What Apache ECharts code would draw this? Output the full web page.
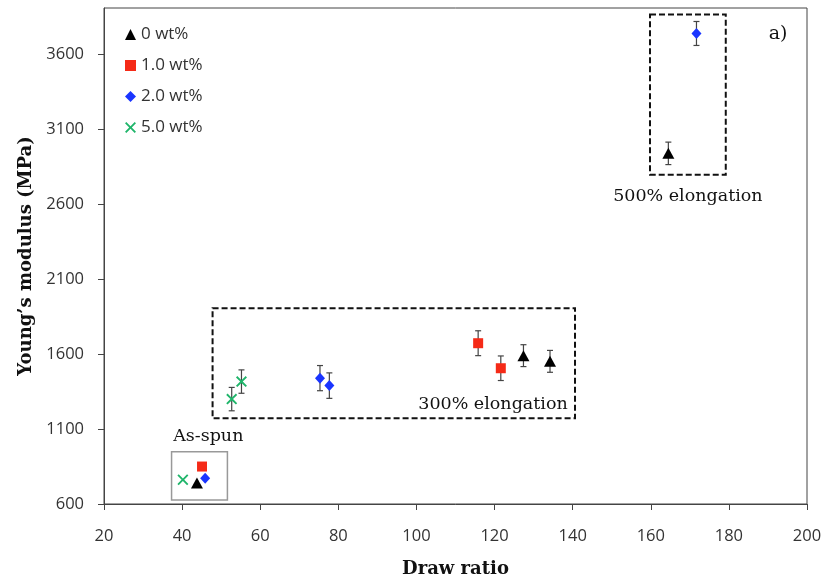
<!DOCTYPE html>
<html>
<head>
<meta charset="utf-8">
<script src="https://cdn.jsdelivr.net/npm/echarts@6/dist/echarts.min.js"></script>
<style>
  html, body { margin: 0; padding: 0; background: #fff; }
  #chart { width: 828px; height: 579px; }
</style>
</head>
<body>
<div id="chart"></div>
<script>
// 数据：[拉伸比, 杨氏模量, 误差]
var wt0 = [[43.8, 740, 0], [127.4, 1590, 73], [134.2, 1552, 73], [164.5, 2940, 75]];
var wt1 = [[45.1, 850, 0], [115.8, 1673, 83], [121.6, 1506, 82]];
var wt2 = [[45.9, 772, 0], [75.3, 1440, 84], [77.7, 1390, 85], [171.7, 3740, 80]];
var wt5 = [[40.2, 762, 0], [52.7, 1300, 78], [55.2, 1417, 78]];

var seriesNames = ['0 wt%', '1.0 wt%', '2.0 wt%', '5.0 wt%'];
var yTicks = [600, 1100, 1600, 2100, 2600, 3100, 3600];

// 框：[x0, y0, x1, y1]
var boxAsSpun = [37.3, 627, 51.6, 949];
var box300 = [47.8, 1172, 140.6, 1907];
var box500 = [159.8, 2798, 179.2, 3867];

// 注释文字：[x, y, 文本]
var notes = [
  [46.7, 1048, 'As-spun'],
  [119.6, 1261, '300% elongation'],
  [169.5, 2651, '500% elongation'],
  [192.6, 3733, 'a)']
];

var serifFont = "'DejaVu Serif', 'Liberation Serif', serif";
var sansFont = "'Open Sans', 'Liberation Sans', sans-serif";

var xSymbol = 'path://M0,1.2L1.2,0L5,3.8L8.8,0L10,1.2L6.2,5L10,8.8L8.8,10L5,6.2L1.2,10L0,8.8L3.8,5Z';

function errorBars(data) {
  return {
    type: 'custom',
    z: 1,
    silent: true,
    data: data.filter(function (d) { return d[2] > 0; }),
    renderItem: function (params, api) {
      var top = api.coord([api.value(0), api.value(1) + api.value(2)]);
      var bot = api.coord([api.value(0), api.value(1) - api.value(2)]);
      var st = { stroke: '#444', lineWidth: 1.2 };
      return {
        type: 'group',
        children: [
          { type: 'line', shape: { x1: top[0], y1: top[1], x2: bot[0], y2: bot[1] }, style: st },
          { type: 'line', shape: { x1: top[0] - 3, y1: top[1], x2: top[0] + 3, y2: top[1] }, style: st },
          { type: 'line', shape: { x1: bot[0] - 3, y1: bot[1], x2: bot[0] + 3, y2: bot[1] }, style: st }
        ]
      };
    }
  };
}

function boxSeries(box, dashed, color) {
  return {
    type: 'custom',
    z: 1,
    silent: true,
    data: [box],
    renderItem: function (params, api) {
      var p0 = api.coord([api.value(0), api.value(3)]);
      var p1 = api.coord([api.value(2), api.value(1)]);
      return {
        type: 'rect',
        shape: { x: p0[0], y: p0[1], width: p1[0] - p0[0], height: p1[1] - p0[1] },
        style: {
          fill: 'none',
          stroke: color,
          lineWidth: dashed ? 2 : 1.5,
          lineDash: dashed ? [6, 3] : null
        }
      };
    }
  };
}

var chart = echarts.init(document.getElementById('chart'));

var option = {
  backgroundColor: '#fff',
  animation: false,
  grid: {
    left: 104, right: 21, top: 8, bottom: 75,
    outerBoundsMode: 'none',
    show: true, borderColor: '#444', borderWidth: 1
  },
  legend: {
    orient: 'vertical',
    left: 120,
    top: 21,
    itemGap: 14,
    itemWidth: 11,
    itemHeight: 11,
    itemTextGap: 6,
    data: seriesNames,
    textStyle: { fontFamily: sansFont, fontSize: 17, color: '#333' }
  },
  xAxis: {
    type: 'value',
    min: 20, max: 200, interval: 20,
    name: 'Draw ratio',
    nameLocation: 'middle',
    nameGap: 56,
    nameTextStyle: { fontFamily: serifFont, fontWeight: 'bold', fontSize: 18, color: '#111' },
    axisLine: { lineStyle: { color: '#444', width: 1 } },
    axisTick: { show: true, inside: false, length: 6, lineStyle: { color: '#444' } },
    axisLabel: { margin: 24, fontFamily: sansFont, fontSize: 16.5, color: '#333' },
    splitLine: { show: false }
  },
  yAxis: {
    type: 'value',
    min: 600, max: 3910,
    name: 'Young\u2019s modulus (MPa)',
    nameLocation: 'middle',
    nameGap: 69,
    nameTextStyle: { fontFamily: serifFont, fontWeight: 'bold', fontSize: 18, color: '#111' },
    axisLine: { lineStyle: { color: '#444', width: 1 } },
    axisTick: { show: true, length: 6, lineStyle: { color: '#444' }, customValues: yTicks },
    axisLabel: {
      margin: 20, fontFamily: sansFont, fontSize: 16.5, color: '#333', customValues: yTicks,
      formatter: function (v) { return String(v); }
    },
    splitLine: { show: false }
  },
  series: [
    boxSeries(boxAsSpun, false, '#999'),
    boxSeries(box300, true, '#111'),
    boxSeries(box500, true, '#111'),
    errorBars(wt0),
    errorBars(wt1),
    errorBars(wt2),
    errorBars(wt5),
    {
      name: seriesNames[0], type: 'scatter', z: 3,
      symbol: 'triangle', symbolSize: [12, 11],
      itemStyle: { color: '#000', opacity: 1 },
      data: wt0.map(function (d) { return [d[0], d[1]]; })
    },
    {
      name: seriesNames[1], type: 'scatter', z: 3,
      symbol: 'rect', symbolSize: 10,
      itemStyle: { color: '#f52a17', opacity: 1 },
      data: wt1.map(function (d) { return [d[0], d[1]]; })
    },
    {
      name: seriesNames[2], type: 'scatter', z: 3,
      symbol: 'diamond', symbolSize: [10, 11],
      itemStyle: { color: '#1a35ff', opacity: 1 },
      data: wt2.map(function (d) { return [d[0], d[1]]; })
    },
    {
      name: seriesNames[3], type: 'scatter', z: 3,
      symbol: xSymbol, symbolSize: 11,
      itemStyle: { color: '#1fb56a', opacity: 1 },
      data: wt5.map(function (d) { return [d[0], d[1]]; })
    },
    {
      type: 'custom',
      z: 4,
      silent: true,
      data: notes,
      renderItem: function (params, api) {
        var p = api.coord([api.value(0), api.value(1)]);
        return {
          type: 'text',
          x: p[0], y: p[1],
          style: {
            text: notes[params.dataIndex][2],
            fontFamily: serifFont,
            fontSize: params.dataIndex === 3 ? 19 : 17.5,
            fill: '#111',
            align: 'center',
            verticalAlign: 'middle',
            backgroundColor: params.dataIndex === 1 ? '#fff' : null
          }
        };
      }
    }
  ]
};

chart.setOption(option);
</script>
</body>
</html>
